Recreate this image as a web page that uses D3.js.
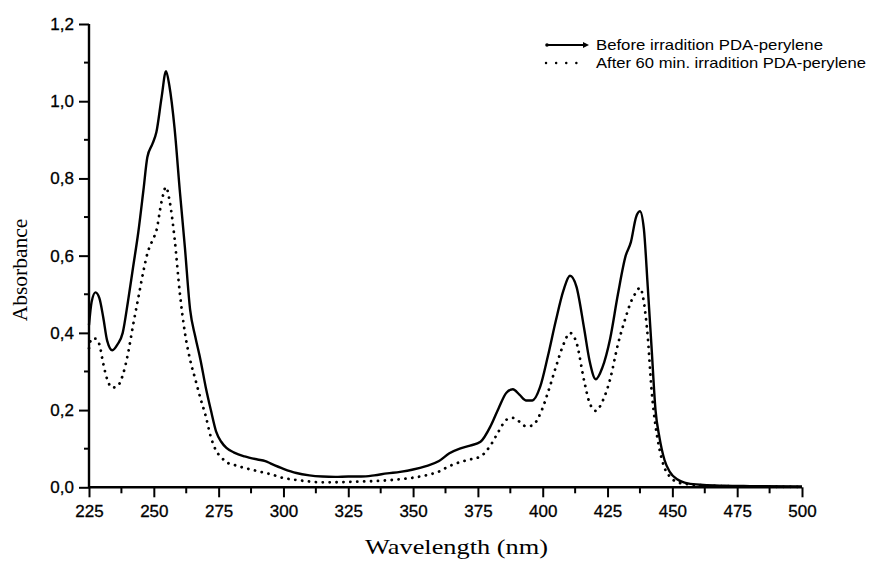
<!DOCTYPE html>
<html>
<head>
<meta charset="utf-8">
<script src="https://cdn.jsdelivr.net/npm/d3@7"></script>
<style>
  html, body { margin: 0; padding: 0; background: #fff; }
  svg { display: block; }
</style>
</head>
<body>
<svg id="chart" width="871" height="561"></svg>
<script>
// ---- data ----
const wavelength = [225, 226, 227.5, 229, 230.5, 232, 234, 236, 238, 240, 242, 244, 246, 247.5, 249.5, 251, 253, 254.7, 256, 258, 260, 262, 264, 266, 268, 270, 272, 274, 276, 278, 281, 285, 290, 293, 295, 300, 305, 310, 315, 320, 325, 330, 335, 340, 345, 350, 355, 360, 364, 368, 372, 376, 380, 383, 386, 388.5, 391, 393.5, 396, 399, 402, 405, 408, 410.5, 413, 416, 418, 420.5, 423, 426, 429, 432, 434, 436, 437.5, 439, 440.5, 442, 443.5, 445, 447, 449, 452, 456, 462, 470, 480, 500];

const beforeIrradiation = [0.42, 0.48, 0.505, 0.49, 0.44, 0.38, 0.355, 0.37, 0.40, 0.48, 0.57, 0.66, 0.77, 0.855, 0.89, 0.92, 1.01, 1.078, 1.04, 0.93, 0.77, 0.62, 0.46, 0.39, 0.33, 0.26, 0.20, 0.145, 0.118, 0.102, 0.09, 0.08, 0.072, 0.068, 0.062, 0.048, 0.037, 0.031, 0.028, 0.027, 0.028, 0.028, 0.031, 0.036, 0.040, 0.046, 0.055, 0.068, 0.088, 0.100, 0.108, 0.118, 0.16, 0.205, 0.245, 0.254, 0.24, 0.225, 0.225, 0.26, 0.34, 0.43, 0.51, 0.548, 0.52, 0.41, 0.33, 0.28, 0.31, 0.385, 0.50, 0.60, 0.635, 0.70, 0.715, 0.67, 0.52, 0.36, 0.20, 0.13, 0.07, 0.04, 0.02, 0.01, 0.006, 0.004, 0.003, 0.002];

const afterIrradiation = [0.36, 0.385, 0.385, 0.37, 0.32, 0.28, 0.258, 0.262, 0.29, 0.345, 0.42, 0.49, 0.56, 0.605, 0.64, 0.665, 0.74, 0.778, 0.745, 0.645, 0.505, 0.40, 0.33, 0.28, 0.23, 0.185, 0.13, 0.095, 0.078, 0.065, 0.058, 0.05, 0.042, 0.037, 0.034, 0.024, 0.019, 0.015, 0.013, 0.013, 0.014, 0.015, 0.016, 0.018, 0.021, 0.025, 0.031, 0.041, 0.055, 0.065, 0.072, 0.08, 0.11, 0.145, 0.175, 0.18, 0.17, 0.158, 0.16, 0.19, 0.245, 0.31, 0.37, 0.40, 0.375, 0.275, 0.22, 0.198, 0.222, 0.28, 0.37, 0.44, 0.48, 0.505, 0.517, 0.48, 0.39, 0.25, 0.16, 0.10, 0.05, 0.028, 0.013, 0.008, 0.005, 0.003, 0.002, 0.001];

const seriesNames = ["Before irradition PDA-perylene", "After 60 min. irradition PDA-perylene"];
const xTicks = [225, 250, 275, 300, 325, 350, 375, 400, 425, 450, 475, 500];
const yTicks = [0, 0.2, 0.4, 0.6, 0.8, 1.0, 1.2];
const xMinorTicks = [237.5, 262.5, 287.5, 312.5, 337.5, 362.5, 387.5, 412.5, 437.5, 462.5, 487.5];
const yMinorTicks = [0.1, 0.3, 0.5, 0.7, 0.9, 1.1];
const xTitle = "Wavelength (nm)";
const yTitle = "Absorbance";

// ---- layout ----
const svg = d3.select("#chart");
const mLeft = 89, mRight = 802, mTop = 24, mBottom = 487.3;

const x = d3.scaleLinear().domain([225, 500]).range([mLeft, mRight]);
const y = d3.scaleLinear().domain([0, 1.2]).range([mBottom, mTop]);

const fmt = d => d3.format(".1f")(d).replace(".", ",");

// lines
const line = d3.line()
  .x((d, i) => x(wavelength[i]))
  .y(d => y(d))
  .curve(d3.curveMonotoneX);

svg.append("path")
  .datum(beforeIrradiation)
  .attr("d", line)
  .attr("fill", "none")
  .attr("stroke", "#000")
  .attr("stroke-width", 2.4)
  .attr("stroke-linejoin", "round");

svg.append("path")
  .datum(afterIrradiation)
  .attr("d", line)
  .attr("fill", "none")
  .attr("stroke", "#000")
  .attr("stroke-width", 2.8)
  .attr("stroke-linecap", "round")
  .attr("stroke-dasharray", "0.1 6.8");

// axes
const xAxis = svg.append("g")
  .attr("transform", `translate(0,${mBottom})`)
  .call(d3.axisBottom(x).tickValues(xTicks).tickSize(10).tickPadding(8).tickFormat(d3.format("d")));
xAxis.append("g").selectAll("line").data(xMinorTicks).join("line")
  .attr("x1", d => x(d)).attr("x2", d => x(d)).attr("y1", 0).attr("y2", 6)
  .attr("stroke", "#000").attr("stroke-width", 2);

const yAxis = svg.append("g")
  .attr("transform", `translate(${mLeft},0)`)
  .call(d3.axisLeft(y).tickValues(yTicks).tickSize(10).tickPadding(5).tickFormat(fmt));
yAxis.append("g").selectAll("line").data(yMinorTicks).join("line")
  .attr("x1", 0).attr("x2", -5).attr("y1", d => y(d)).attr("y2", d => y(d))
  .attr("stroke", "#000").attr("stroke-width", 2);

[xAxis, yAxis].forEach(g => {
  g.select(".domain").attr("stroke-width", 2.4).attr("stroke", "#000");
  g.selectAll(".tick line").attr("stroke-width", 2).attr("stroke", "#000");
  g.selectAll(".tick text")
    .attr("fill", "#000")
    .attr("stroke", "#000")
    .attr("stroke-width", 0.3)
    .style("font-family", "Liberation Sans, Arial, sans-serif")
    .style("font-size", "17px");
});
xAxis.select(".domain").attr("d", `M${mLeft},0H${mRight}`);
yAxis.select(".domain").attr("d", `M0,${mBottom}V${mTop}`);

// axis titles
svg.append("text")
  .attr("x", 365).attr("y", 554)
  .attr("textLength", 183)
  .attr("lengthAdjust", "spacingAndGlyphs")
  .style("font-family", "Liberation Serif, 'Times New Roman', serif")
  .style("font-size", "22px")
  .text(xTitle);

svg.append("text")
  .attr("transform", "translate(27,270) rotate(-90)")
  .attr("text-anchor", "middle")
  .style("font-family", "Liberation Serif, 'Times New Roman', serif")
  .style("font-size", "21.5px")
  .text(yTitle);

// legend
const legend = svg.append("g");
const legendRows = [
  { name: seriesNames[0], dash: null, y: 45, len: 227 },
  { name: seriesNames[1], dash: "0.1 10", y: 63, len: 270 }
];
legendRows.forEach(r => {
  const l = legend.append("line")
    .attr("x1", r.dash ? 546 : 547).attr("x2", r.dash ? 586 : 584)
    .attr("y1", r.y).attr("y2", r.y)
    .attr("stroke", "#000");
  if (r.dash) {
    l.attr("stroke-width", 2.4).attr("stroke-linecap", "round").attr("stroke-dasharray", r.dash);
  } else {
    l.attr("stroke-width", 2.2);
    legend.append("path")
      .attr("d", `M583,${r.y - 3}L589,${r.y}L583,${r.y + 3}Z`)
      .attr("fill", "#000");
    legend.append("circle")
      .attr("cx", 547).attr("cy", r.y).attr("r", 1.8)
      .attr("fill", "#000");
  }
  legend.append("text")
    .attr("x", 596).attr("y", r.y + 5)
    .attr("textLength", r.len)
    .attr("lengthAdjust", "spacingAndGlyphs")
    .style("font-family", "Liberation Sans, Arial, sans-serif")
    .style("font-size", "14.5px")
    .text(r.name);
});
</script>
</body>
</html>
